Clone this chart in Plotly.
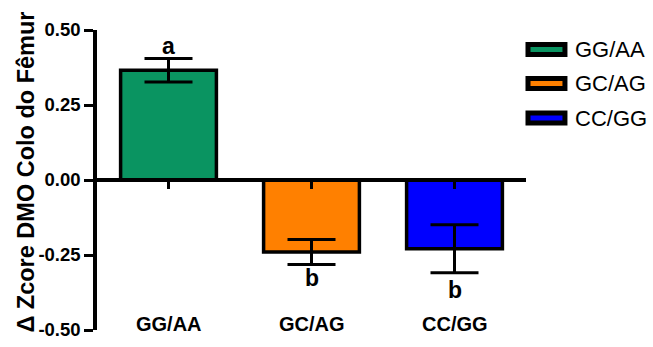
import plotly.graph_objects as go

# Genotype groups, mean change and standard error
categories = ["GG/AA", "GC/AG", "CC/GG"]
means = [0.366, -0.240, -0.229]
errors = [0.039, 0.042, 0.080]
colors = ["#0a9461", "#ff8000", "#0000ff"]
letters = ["a", "b", "b"]
letter_y = [0.448, -0.328, -0.368]

y_ticks = [-0.50, -0.25, 0.00, 0.25, 0.50]
y_title = "Δ Zcore DMO Colo do Fêmur"

FONT = "Arial, Liberation Sans, sans-serif"
W, H = 653, 347
M_L, M_R, M_T, M_B = 97, 126.5, 30, 17

fig = go.Figure()
fig.add_trace(go.Bar(
    x=categories,
    y=means,
    width=0.67,
    marker=dict(color=colors, line=dict(color="black", width=3.5)),
    error_y=dict(type="data", array=errors, visible=True,
                 color="black", thickness=3, width=24),
    showlegend=False,
))

# significance letters
for cat, lab, ly in zip(categories, letters, letter_y):
    fig.add_annotation(x=cat, y=ly, text=f"<b>{lab}</b>", showarrow=False,
                       font=dict(family=FONT, size=23, color="black"),
                       xanchor="center", yanchor="middle")

# category labels along the bottom
for cat in categories:
    fig.add_annotation(x=cat, y=-0.48, text=f"<b>{cat}</b>", showarrow=False,
                       font=dict(family=FONT, size=20, color="black"),
                       xanchor="center", yanchor="middle")

# pixel -> paper helpers
plot_w = W - M_L - M_R
plot_h = H - M_T - M_B
def px_x(p):
    return (p - M_L) / plot_w
def px_y(p):
    return 1 - (p - M_T) / plot_h

# rotated y-axis title
fig.add_annotation(xref="paper", yref="paper", x=px_x(25.5), y=px_y(172),
                   text=f"<b>{y_title}</b>", textangle=-90, showarrow=False,
                   xanchor="center", yanchor="middle",
                   font=dict(family=FONT, size=23.5, color="black"))

# legend boxes drawn at the right of the plot
leg_y = [49.5, 83.5, 118]
for cat, col, cy in zip(categories, colors, leg_y):
    fig.add_shape(type="rect", xref="paper", yref="paper",
                  x0=px_x(528.5), x1=px_x(565.5),
                  y0=px_y(cy + 5), y1=px_y(cy - 5),
                  fillcolor=col, line=dict(color="black", width=5))
    fig.add_annotation(xref="paper", yref="paper", x=px_x(574), y=px_y(cy),
                       text=cat, showarrow=False, xanchor="left", yanchor="middle",
                       font=dict(family=FONT, size=22, color="black"))

fig.update_layout(
    template="none",
    width=W, height=H,
    margin=dict(l=M_L, r=M_R, t=M_T, b=M_B, pad=0, autoexpand=False),
    plot_bgcolor="white", paper_bgcolor="white",
    bargap=0.33,
    xaxis=dict(
        range=[-0.5, 2.5], anchor="free", position=0.5, automargin=False,
        showline=True, linecolor="black", linewidth=3.5,
        ticks="outside", ticklen=7, tickwidth=3, tickcolor="black",
        showticklabels=False, showgrid=False, zeroline=False,
    ),
    yaxis=dict(
        range=[-0.5, 0.5], tickvals=y_ticks, automargin=False,
        ticktext=[f"{v:.2f}" for v in y_ticks],
        showline=True, linecolor="black", linewidth=3.5,
        ticks="outside", ticklen=9, tickwidth=3, tickcolor="black",
        showgrid=False, zeroline=False,
        tickfont=dict(family=FONT, size=18.5, color="black", weight="bold"),
    ),
)

fig.write_html("out.html")
